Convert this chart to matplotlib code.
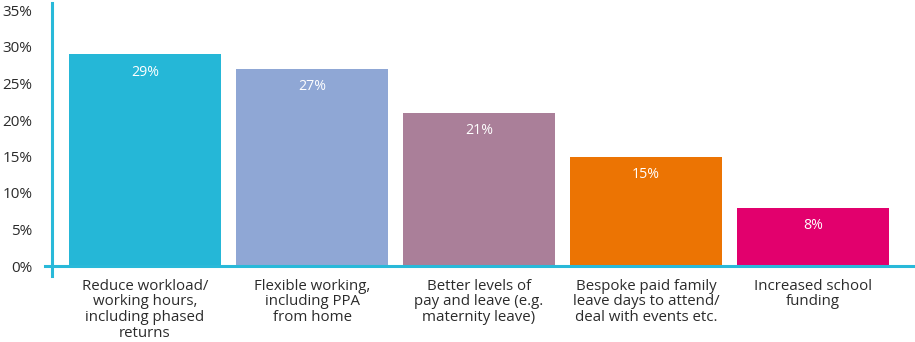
import matplotlib
matplotlib.use("Agg")
import matplotlib.pyplot as plt
from matplotlib.lines import Line2D

categories = [
    "Reduce workload/\nworking hours,\nincluding phased\nreturns",
    "Flexible working,\nincluding PPA\nfrom home",
    "Better levels of\npay and leave (e.g.\nmaternity leave)",
    "Bespoke paid family\nleave days to attend/\ndeal with events etc.",
    "Increased school\nfunding",
]
values = [29, 27, 21, 15, 8]
bar_colors = ["#25b7d7", "#8fa7d5", "#aa7f99", "#ec7403", "#e2006d"]
yticks = [0, 5, 10, 15, 20, 25, 30, 35]
ytick_labels = ["0%", "5%", "10%", "15%", "20%", "25%", "30%", "35%"]

plt.rcParams["font.family"] = ["Open Sans", "DejaVu Sans"]
axis_color = "#29b9d9"
text_color = "#2b2b2b"

fig = plt.figure(figsize=(9.15, 3.42), dpi=100)
ax = fig.add_axes([52 / 915, 1 - 266 / 342, 1 - 52 / 915, (266 - 10.5) / 342])

x = list(range(len(values)))
bars = ax.bar(x, values, width=0.91, color=bar_colors, zorder=2)
for rect, v in zip(bars, values):
    ax.text(rect.get_x() + rect.get_width() / 2, v - 1.4, f"{v}%",
            ha="center", va="top", color="white", fontsize=10.2)

ax.set_xlim(-0.557, 4.611)
ax.set_ylim(0, 35)
ax.set_yticks(yticks)
ax.set_yticklabels(ytick_labels, fontsize=11)
ax.set_xticks(x)
ax.set_xticklabels(categories, linespacing=1.08, fontsize=10.8)
ax.tick_params(axis="both", length=0, colors=text_color)
ax.tick_params(axis="y", pad=14)
ax.tick_params(axis="x", pad=9)

for s in ax.spines.values():
    s.set_visible(False)

# Axis lines that overshoot the plot corner
trans = ax.transAxes
ax.add_line(Line2D([0, 0], [-10 / 255.5, 1 + 8 / 255.5], color=axis_color,
                   lw=2.2, transform=trans, clip_on=False, zorder=3))
ax.add_line(Line2D([-7 / 863, 1], [0, 0], color=axis_color,
                   lw=2.2, transform=trans, clip_on=False, zorder=3))

fig.savefig("out.png", dpi=100)
